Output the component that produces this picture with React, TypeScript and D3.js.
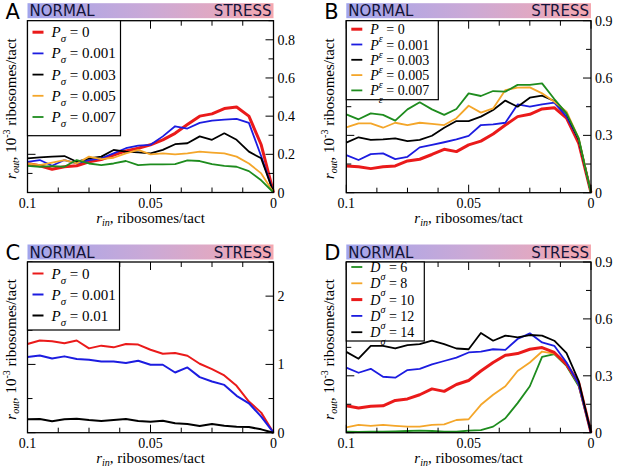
import React from 'react';
import * as d3 from 'd3';

// r_in grid (step 0.005, from 0.1 down to 0)
const X_VALUES = [
  0.1, 0.095, 0.09, 0.085, 0.08, 0.075, 0.07, 0.065, 0.06, 0.055, 0.05,
  0.045, 0.04, 0.035, 0.03, 0.025, 0.02, 0.015, 0.01, 0.005, 0,
];

// Panel A: P_sigma
const A_P0 = [0.152, 0.14, 0.122, 0.135, 0.14, 0.161, 0.173, 0.196, 0.218, 0.232, 0.25, 0.276, 0.31, 0.356, 0.4, 0.412, 0.44, 0.448, 0.4, 0.25, 0];
const A_P001 = [0.161, 0.17, 0.14, 0.17, 0.152, 0.17, 0.179, 0.205, 0.232, 0.246, 0.25, 0.294, 0.347, 0.335, 0.365, 0.377, 0.382, 0.386, 0.365, 0.19, 0];
const A_P003 = [0.179, 0.184, 0.188, 0.191, 0.161, 0.179, 0.188, 0.223, 0.214, 0.21, 0.205, 0.223, 0.253, 0.258, 0.294, 0.276, 0.31, 0.276, 0.214, 0.179, 0];
const A_P005 = [0.152, 0.143, 0.156, 0.17, 0.152, 0.188, 0.175, 0.182, 0.205, 0.223, 0.2, 0.205, 0.2, 0.205, 0.214, 0.209, 0.205, 0.188, 0.152, 0.1, 0];
const A_P007 = [0.14, 0.135, 0.138, 0.135, 0.17, 0.152, 0.143, 0.152, 0.165, 0.143, 0.147, 0.147, 0.149, 0.168, 0.165, 0.149, 0.14, 0.135, 0.112, 0.064, 0];

// Panel B: P_epsilon
const B_P0 = [0.14, 0.136, 0.126, 0.136, 0.14, 0.166, 0.175, 0.2, 0.227, 0.215, 0.25, 0.27, 0.307, 0.354, 0.398, 0.41, 0.438, 0.445, 0.39, 0.258, 0];
const B_P001 = [0.197, 0.171, 0.202, 0.206, 0.176, 0.188, 0.237, 0.25, 0.264, 0.279, 0.297, 0.354, 0.358, 0.366, 0.462, 0.45, 0.462, 0.471, 0.398, 0.276, 0];
const B_P003 = [0.262, 0.29, 0.276, 0.279, 0.284, 0.27, 0.276, 0.298, 0.34, 0.375, 0.375, 0.398, 0.433, 0.482, 0.45, 0.497, 0.508, 0.48, 0.415, 0.276, 0];
const B_P005 = [0.342, 0.363, 0.363, 0.34, 0.366, 0.354, 0.366, 0.36, 0.354, 0.39, 0.455, 0.419, 0.441, 0.537, 0.55, 0.551, 0.52, 0.476, 0.424, 0.284, 0];
const B_P007 = [0.41, 0.384, 0.415, 0.407, 0.377, 0.436, 0.473, 0.436, 0.407, 0.438, 0.52, 0.506, 0.532, 0.529, 0.564, 0.564, 0.572, 0.49, 0.415, 0.284, 0];

// Panel C: P_sigma (larger range)
const C_P0 = [1.3, 1.35, 1.34, 1.31, 1.35, 1.235, 1.275, 1.25, 1.3, 1.29, 1.215, 1.157, 1.167, 1.127, 1.01, 0.93, 0.838, 0.686, 0.456, 0.294, 0];
const C_P001 = [1.108, 1.132, 1.088, 1.118, 1.078, 1.069, 1.044, 1.044, 1.02, 1.054, 0.995, 0.995, 0.882, 0.956, 0.814, 0.75, 0.7, 0.54, 0.431, 0.235, 0];
const C_P01 = [0.196, 0.2, 0.167, 0.196, 0.206, 0.186, 0.172, 0.186, 0.2, 0.172, 0.162, 0.176, 0.137, 0.127, 0.098, 0.127, 0.103, 0.088, 0.083, 0.049, 0];

// Panel D: D_sigma
const D_6 = [0.005, 0.004, 0.005, 0.005, 0.007, 0.009, 0.011, 0.009, 0.005, 0.005, 0.011, 0.014, 0.032, 0.076, 0.156, 0.245, 0.4, 0.414, 0.352, 0.245, 0];
const D_8 = [0.028, 0.041, 0.036, 0.041, 0.036, 0.032, 0.032, 0.041, 0.044, 0.067, 0.071, 0.147, 0.2, 0.245, 0.325, 0.37, 0.428, 0.417, 0.36, 0.254, 0];
const D_10 = [0.142, 0.13, 0.139, 0.142, 0.17, 0.178, 0.2, 0.231, 0.218, 0.254, 0.275, 0.325, 0.37, 0.408, 0.417, 0.44, 0.449, 0.423, 0.36, 0.263, 0];
const D_12 = [0.343, 0.316, 0.337, 0.295, 0.29, 0.33, 0.337, 0.36, 0.378, 0.396, 0.423, 0.428, 0.44, 0.437, 0.494, 0.524, 0.476, 0.458, 0.37, 0.254, 0];
const D_14 = [0.426, 0.39, 0.458, 0.458, 0.444, 0.462, 0.467, 0.485, 0.467, 0.444, 0.44, 0.526, 0.485, 0.512, 0.503, 0.515, 0.512, 0.485, 0.419, 0.272, 0];

const X_TICK_LABELS = ['0.1', '0.05', '0'];
const Y_TICKS_A = [0, 0.2, 0.4, 0.6, 0.8];
const Y_TICKS_B = [0, 0.3, 0.6, 0.9];
const Y_TICKS_C = [0, 1, 2];

const RED = '#ea1a1a';
const BLUE = '#1c1ce0';
const BLACK = '#000000';
const ORANGE = '#f4a62a';
const GREEN = '#1e8c1e';

const SERIF = '"Liberation Serif", "Times New Roman", serif';
const SANS = '"DejaVu Sans", sans-serif';

interface Series {
  sym: string;
  sub: string;
  value: string;
  color: string;
  width: number;
  data: number[];
}

interface PanelProps {
  letter: string;
  x0: number;
  x1: number;
  y0: number;
  y1: number;
  yMax: number;
  yTicks: number[];
  yMinor: number;
  series: Series[];
  legend: { w: number; h: number; step: number; first: number; size: number; subDy: number };
  gradId: string;
}

function Panel({ letter, x0, x1, y0, y1, yMax, yTicks, yMinor, series, legend, gradId }: PanelProps) {
  const x = d3.scaleLinear().domain([0.1, 0]).range([x0, x1]);
  const y = d3.scaleLinear().domain([0, yMax]).range([y1, y0]);
  const line = d3.line<number>().x((_, i) => x(X_VALUES[i])).y(d => y(d));

  const xMinor = d3.range(0, 0.1 + 1e-9, 0.0125);
  const xMajor = [0.1, 0.05, 0];
  const yMinorTicks = d3.range(0, yMax + 1e-9, yMinor);

  const ticks: React.ReactNode[] = [];
  xMinor.forEach((v, i) => {
    const len = xMajor.some(m => Math.abs(m - v) < 1e-9) ? 8 : 5;
    ticks.push(<line key={'xb' + i} x1={x(v)} x2={x(v)} y1={y1} y2={y1 - len} />);
    ticks.push(<line key={'xt' + i} x1={x(v)} x2={x(v)} y1={y0} y2={y0 + len} />);
  });
  yMinorTicks.forEach((v, i) => {
    const len = yTicks.some(m => Math.abs(m - v) < 1e-9) ? 8 : 5;
    ticks.push(<line key={'yl' + i} x1={x0} x2={x0 + len} y1={y(v)} y2={y(v)} />);
    ticks.push(<line key={'yr' + i} x1={x1} x2={x1 - len} y1={y(v)} y2={y(v)} />);
  });

  const cy = (y0 + y1) / 2 + 2;

  return (
    <g>
      {/* NORMAL -> STRESS bar */}
      <rect x={x0} y={y0 - 17.5} width={x1 - x0} height={15} fill={`url(#${gradId})`} />
      <text x={x0 + 2} y={y0 - 4.5} fontFamily={SANS} fontSize={15} fill="#14143a">NORMAL</text>
      <text x={x1 - 2} y={y0 - 4.5} fontFamily={SANS} fontSize={15} fill="#14143a" textAnchor="end">STRESS</text>
      <text x={x0 - 22} y={y0 - 2} fontFamily={SANS} fontSize={21}>{letter}</text>

      {series.map((s, i) => (
        <path key={i} d={line(s.data) || ''} fill="none" stroke={s.color} strokeWidth={s.width} strokeLinejoin="round" />
      ))}

      <g stroke="#000" strokeWidth={1}>{ticks}</g>
      <rect x={x0} y={y0} width={x1 - x0} height={y1 - y0} fill="none" stroke="#000" strokeWidth={1.3} />

      {/* legend */}
      <rect x={x0} y={y0} width={legend.w} height={legend.h} fill="#fff" stroke="#000" strokeWidth={1.2} />
      {series.map((s, i) => {
        const ly = y0 + legend.first + i * legend.step;
        return (
          <g key={'lg' + i}>
            <line x1={x0 + 5} x2={x0 + 16} y1={ly} y2={ly} stroke={s.color} strokeWidth={s.width} />
            <text x={x0 + 24} y={ly + 5} fontFamily={SERIF} fontSize={legend.size}>
              <tspan fontStyle="italic">{s.sym}</tspan>
              <tspan fontStyle="italic" fontSize={legend.size * 0.72} dy={legend.subDy}>{s.sub}</tspan>
              <tspan dy={-legend.subDy}>{' = ' + s.value}</tspan>
            </text>
          </g>
        );
      })}

      {/* axis labels */}
      {X_TICK_LABELS.map((t, i) => (
        <text key={'xl' + i} x={x(+t)} y={y1 + 15} fontFamily={SERIF} fontSize={14} textAnchor="middle">{t}</text>
      ))}
      {yTicks.map((v, i) => (
        <text key={'yl' + i} x={x1 + 4} y={y(v) + 5} fontFamily={SERIF} fontSize={14}>{String(v)}</text>
      ))}
      <text x={(x0 + x1) / 2} y={y1 + 30} fontFamily={SERIF} fontSize={15} textAnchor="middle">
        <tspan fontStyle="italic">r</tspan>
        <tspan fontStyle="italic" fontSize={10} dy={3}>in</tspan>
        <tspan dy={-3}>, ribosomes/tact</tspan>
      </text>
      <text transform={`translate(${x0 - 12},${cy}) rotate(-90)`} fontFamily={SERIF} fontSize={15} textAnchor="middle">
        <tspan fontStyle="italic">r</tspan>
        <tspan fontStyle="italic" fontSize={10} dy={3}>out</tspan>
        <tspan dy={-3}>, 10</tspan>
        <tspan fontSize={10} dy={-6}>-3</tspan>
        <tspan dy={6}> ribosomes/tact</tspan>
      </text>
    </g>
  );
}

export default function App() {
  const seriesA: Series[] = [
    { sym: 'P', sub: 'σ', value: '0', color: RED, width: 3, data: A_P0 },
    { sym: 'P', sub: 'σ', value: '0.001', color: BLUE, width: 1.8, data: A_P001 },
    { sym: 'P', sub: 'σ', value: '0.003', color: BLACK, width: 1.8, data: A_P003 },
    { sym: 'P', sub: 'σ', value: '0.005', color: ORANGE, width: 1.8, data: A_P005 },
    { sym: 'P', sub: 'σ', value: '0.007', color: GREEN, width: 1.8, data: A_P007 },
  ];
  const seriesB: Series[] = [
    { sym: 'P', sub: 'ε', value: '0', color: RED, width: 3, data: B_P0 },
    { sym: 'P', sub: 'ε', value: '0.001', color: BLUE, width: 1.8, data: B_P001 },
    { sym: 'P', sub: 'ε', value: '0.003', color: BLACK, width: 1.8, data: B_P003 },
    { sym: 'P', sub: 'ε', value: '0.005', color: ORANGE, width: 1.8, data: B_P005 },
    { sym: 'P', sub: 'ε', value: '0.007', color: GREEN, width: 1.8, data: B_P007 },
  ];
  const seriesC: Series[] = [
    { sym: 'P', sub: 'σ', value: '0', color: RED, width: 2, data: C_P0 },
    { sym: 'P', sub: 'σ', value: '0.001', color: BLUE, width: 2, data: C_P001 },
    { sym: 'P', sub: 'σ', value: '0.01', color: BLACK, width: 2, data: C_P01 },
  ];
  const seriesD: Series[] = [
    { sym: 'D', sub: 'σ', value: '6', color: GREEN, width: 1.8, data: D_6 },
    { sym: 'D', sub: 'σ', value: '8', color: ORANGE, width: 1.8, data: D_8 },
    { sym: 'D', sub: 'σ', value: '10', color: RED, width: 3, data: D_10 },
    { sym: 'D', sub: 'σ', value: '12', color: BLUE, width: 1.8, data: D_12 },
    { sym: 'D', sub: 'σ', value: '14', color: BLACK, width: 1.8, data: D_14 },
  ];

  return (
    <svg width={617} height={472} style={{ position: 'absolute', left: 0, top: 0, background: '#fff' }}>
      <defs>
        <linearGradient id="ns" x1="0" x2="1" y1="0" y2="0">
          <stop offset="0" stopColor="#a2a5ec" />
          <stop offset="0.5" stopColor="#cba9d6" />
          <stop offset="1" stopColor="#f5a8b0" />
        </linearGradient>
      </defs>
      <Panel letter="A" x0={27.5} x1={273.5} y0={20.7} y1={192.5} yMax={0.9} yTicks={Y_TICKS_A} yMinor={0.1}
        series={seriesA} legend={{ w: 93, h: 115, step: 21.2, first: 11.5, size: 15, subDy: 5 }} gradId="ns" />
      <Panel letter="B" x0={346.3} x1={591} y0={20.7} y1={192.7} yMax={0.9} yTicks={Y_TICKS_B} yMinor={0.15}
        series={seriesB} legend={{ w: 92, h: 79, step: 15.3, first: 8.5, size: 14, subDy: 8 }} gradId="ns" />
      <Panel letter="C" x0={27.5} x1={273.5} y0={262} y1={432.7} yMax={2.5} yTicks={Y_TICKS_C} yMinor={0.5}
        series={seriesC} legend={{ w: 92, h: 68, step: 21, first: 11.5, size: 15, subDy: 5 }} gradId="ns" />
      <Panel letter="D" x0={346.3} x1={591} y0={262} y1={432.7} yMax={0.9} yTicks={Y_TICKS_B} yMinor={0.15}
        series={seriesD} legend={{ w: 78, h: 79, step: 16.3, first: 5, size: 14, subDy: 8 }} gradId="ns" />
    </svg>
  );
}
